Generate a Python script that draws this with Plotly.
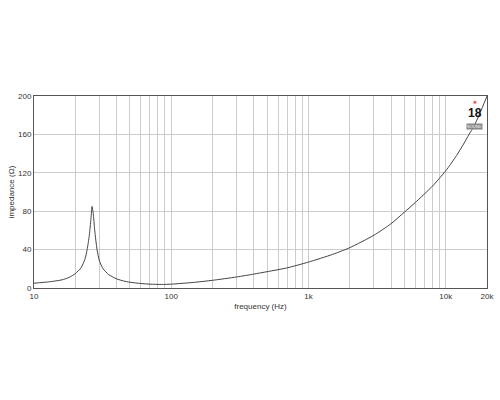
import plotly.graph_objects as go

# impedance curve (Hz, ohm)
freq_hz = [10, 13, 16, 18, 20, 22, 23.5, 24.4, 25.3, 26, 26.5, 27, 27.7, 28.8,
           30, 31.9, 35, 40, 45, 50, 60, 70, 85, 100, 150, 200, 300, 400, 500,
           700, 1000, 1500, 2000, 3000, 4000, 5000, 6000, 8000, 10000, 12000,
           13500, 14800, 16000, 17000, 18500, 20000]
impedance = [5, 6.5, 8.5, 11, 15, 21, 30, 40, 55, 72, 85, 78, 60, 40,
             28, 20, 14, 9.5, 7.3, 6, 4.7, 4, 3.7, 4, 6, 8, 11.5, 14.5, 17,
             21, 27, 35, 42, 55, 67, 79, 89, 106, 122, 138,
             150, 160, 168, 176, 188, 200]

# grid / tick positions
grid_f = [m * 10 ** e for e in (1, 2, 3) for m in range(1, 10)] + [10000, 20000]
label_f = {10: "10", 100: "100", 1000: "1k", 10000: "10k", 20000: "20k"}
y_ticks = [0, 40, 80, 120, 160, 200]

fig = go.Figure()
fig.add_trace(go.Scatter(
    x=freq_hz, y=impedance, mode="lines",
    line=dict(color="#444444", width=1, shape="spline", smoothing=0.6),
    hoverinfo="skip", showlegend=False,
))

fig.update_xaxes(
    type="log", range=[1, 4.30103], automargin=False,
    tickvals=grid_f, ticktext=[label_f.get(f, "") for f in grid_f],
    showgrid=True, gridcolor="#cccccc", gridwidth=1,
    showline=True, linecolor="#555555", linewidth=1, mirror=True,
    ticks="", tickfont=dict(size=8, color="#333333"),
    title=dict(text="frequency (Hz)", font=dict(size=8, color="#333333"), standoff=3),
    zeroline=False,
)
fig.update_yaxes(
    range=[0, 200], tickvals=y_ticks, automargin=False,
    showgrid=True, gridcolor="#cccccc", gridwidth=1,
    showline=True, linecolor="#555555", linewidth=1, mirror=True,
    ticks="", tickfont=dict(size=8, color="#333333"),
    title=dict(text="impedance (Ω)", font=dict(size=8, color="#333333"), standoff=2),
    zeroline=False,
)

# small "18 Sound" logo in the top-right corner
logo = dict(xref="paper", yref="paper", x=0.973, xanchor="center",
            yanchor="middle", showarrow=False, borderpad=0)
fig.add_annotation(y=0.968, text="✶", font=dict(size=7, color="#e03030"), **logo)
fig.add_annotation(y=0.912, text="<b>18</b>",
                   font=dict(size=12, color="#111111",
                             family="Liberation Sans Narrow, Arial Narrow, sans-serif"),
                   **logo)
fig.add_annotation(y=0.843, text="SOUND", bgcolor="#888888",
                   font=dict(size=4, color="#ffffff"), **logo)

fig.update_layout(
    width=500, height=400,
    margin=dict(l=34, r=13, t=96, b=112),
    paper_bgcolor="white", plot_bgcolor="white",
    font=dict(family="Liberation Sans, Arial, sans-serif", size=8, color="#333333"),
)

# drop the page's default body margin so the figure sits at the window origin
fig.write_html("out.html", config={"displayModeBar": False},
               post_script="document.body.style.margin='0';")
